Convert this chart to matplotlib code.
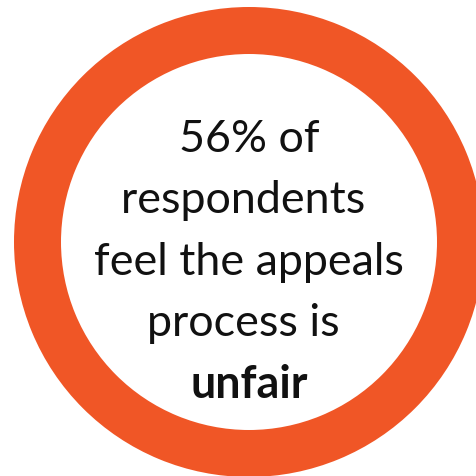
import matplotlib
matplotlib.use("Agg")
import matplotlib.pyplot as plt

# Data
share = [100]  # full ring
lines = ["56% of", "respondents ", "feel the appeals", "process is ", "unfair"]
weights = ["normal", "normal", "normal", "normal", "bold"]
ring_color = "#F05626"

fig = plt.figure(figsize=(4.77, 4.77), dpi=100)
ax = fig.add_axes([0, 0, 1, 1])
ax.pie(share, radius=235, center=(249, 243), colors=[ring_color],
       wedgeprops=dict(width=47, linewidth=0), startangle=90)
ax.set_xlim(0, 477)
ax.set_ylim(477, 0)
ax.set_aspect("equal")
ax.axis("off")

baselines = [152, 213.5, 275, 336.5, 398]
for txt, w, y in zip(lines, weights, baselines):
    ax.text(249, y, txt, ha="center", va="baseline", fontsize=32.3,
            fontweight=w, family="Lato", color="#111111")

fig.savefig("out.png", dpi=100)
